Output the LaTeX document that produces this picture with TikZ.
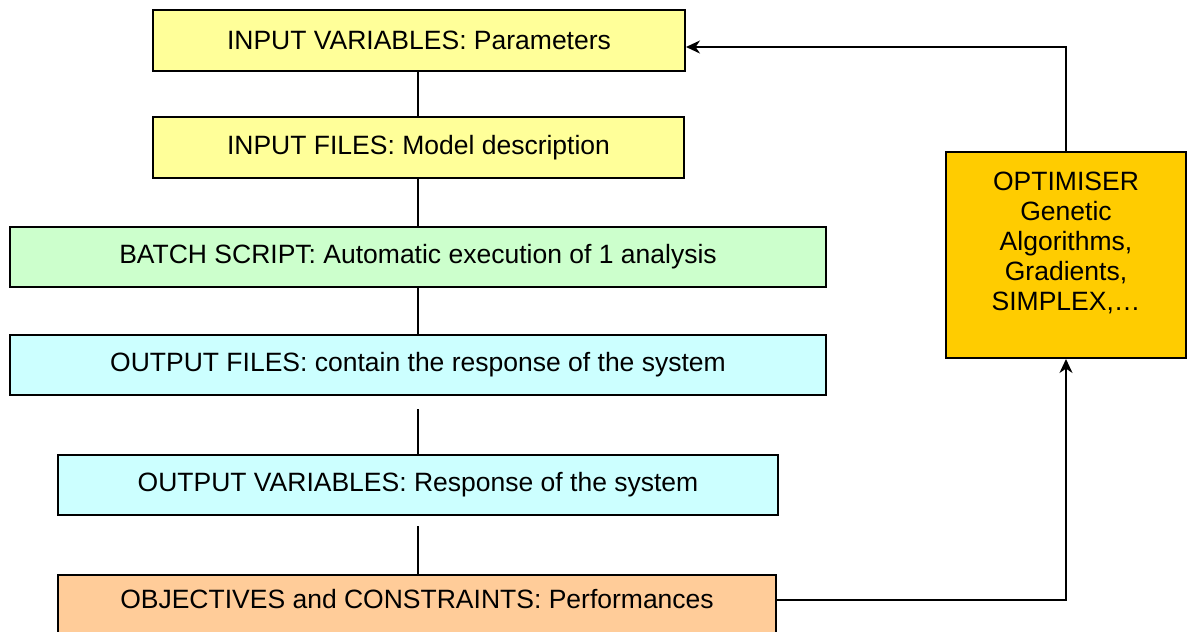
\documentclass[tikz,border=0pt]{standalone}
\usepackage{fontspec}
\setmainfont{Liberation Sans}
\usetikzlibrary{arrows.meta}

\definecolor{inyellow}{HTML}{FFFF99}
\definecolor{batchgreen}{HTML}{CCFFCC}
\definecolor{outcyan}{HTML}{CCFFFF}
\definecolor{objorange}{HTML}{FFCC99}
\definecolor{optgold}{HTML}{FFCC00}

\tikzset{
  stagebox/.style={draw=black, line width=1pt, inner sep=0pt,
    font=\fontsize{13.25}{15}\selectfont, align=center},
  conn/.style={draw=black, line width=1pt},
  feedback/.style={conn, -{Stealth[length=7pt,width=6.5pt,inset=2.2pt]}},
}

\begin{document}
\begin{tikzpicture}[x=0.5pt,y=-0.5pt]
  \useasboundingbox (0,0) rectangle (1191,632);
  \clip (0,0) rectangle (1191,632);

  % processing chain
  \node[stagebox, fill=inyellow, minimum width=266pt, minimum height=30.5pt]
    (b1) at (419,40.5) {INPUT VARIABLES: Parameters};
  \node[stagebox, fill=inyellow, minimum width=265.5pt, minimum height=30.5pt]
    (b2) at (418.5,147.5) {INPUT FILES: Model description};
  \node[stagebox, fill=batchgreen, minimum width=408pt, minimum height=30pt]
    (b3) at (418,257) {BATCH SCRIPT: Automatic execution of 1 analysis};
  \node[stagebox, fill=outcyan, minimum width=408pt, minimum height=30pt]
    (b4) at (418,365) {OUTPUT FILES: contain the response of the system};
  \node[stagebox, fill=outcyan, minimum width=360pt, minimum height=30pt]
    (b5) at (418,485) {OUTPUT VARIABLES: Response of the system};
  \node[stagebox, fill=objorange, minimum width=359pt, minimum height=30.5pt,
        text height=9.5pt, text depth=7pt]
    (b6) at (417,605.5) {OBJECTIVES and CONSTRAINTS: Performances};

  % optimiser
  \node[draw=black, line width=1pt, fill=optgold, minimum width=120pt,
        minimum height=103pt, inner sep=0pt] (opt) at (1066,255) {};
  \node[font=\fontsize{13.25}{15}\selectfont, align=center, inner sep=0pt]
    (opttext) at (1066,243)
    {OPTIMISER\\Genetic\\Algorithms,\\Gradients,\\SIMPLEX,…};

  % vertical links of the chain
  \coordinate (spine) at (418,0);
  \coordinate (gap45) at (418,409);
  \coordinate (gap56) at (418,526);
  \draw[conn] (b1.south -| spine) -- (b2.north -| spine);
  \draw[conn] (b2.south -| spine) -- (b3.north -| spine);
  \draw[conn] (b3.south -| spine) -- (b4.north -| spine);
  \draw[conn] (gap45) -- (b5.north -| spine);
  \draw[conn] (gap56) -- (b6.north -| spine);

  % feedback loop
  \coordinate (loopy) at (0,600);
  \coordinate (topy) at (0,47);
  \draw[feedback] (b6.east |- loopy) -| (opt.south);
  \draw[feedback] (opt.north) |- (b1.east |- topy);
\end{tikzpicture}
\end{document}
